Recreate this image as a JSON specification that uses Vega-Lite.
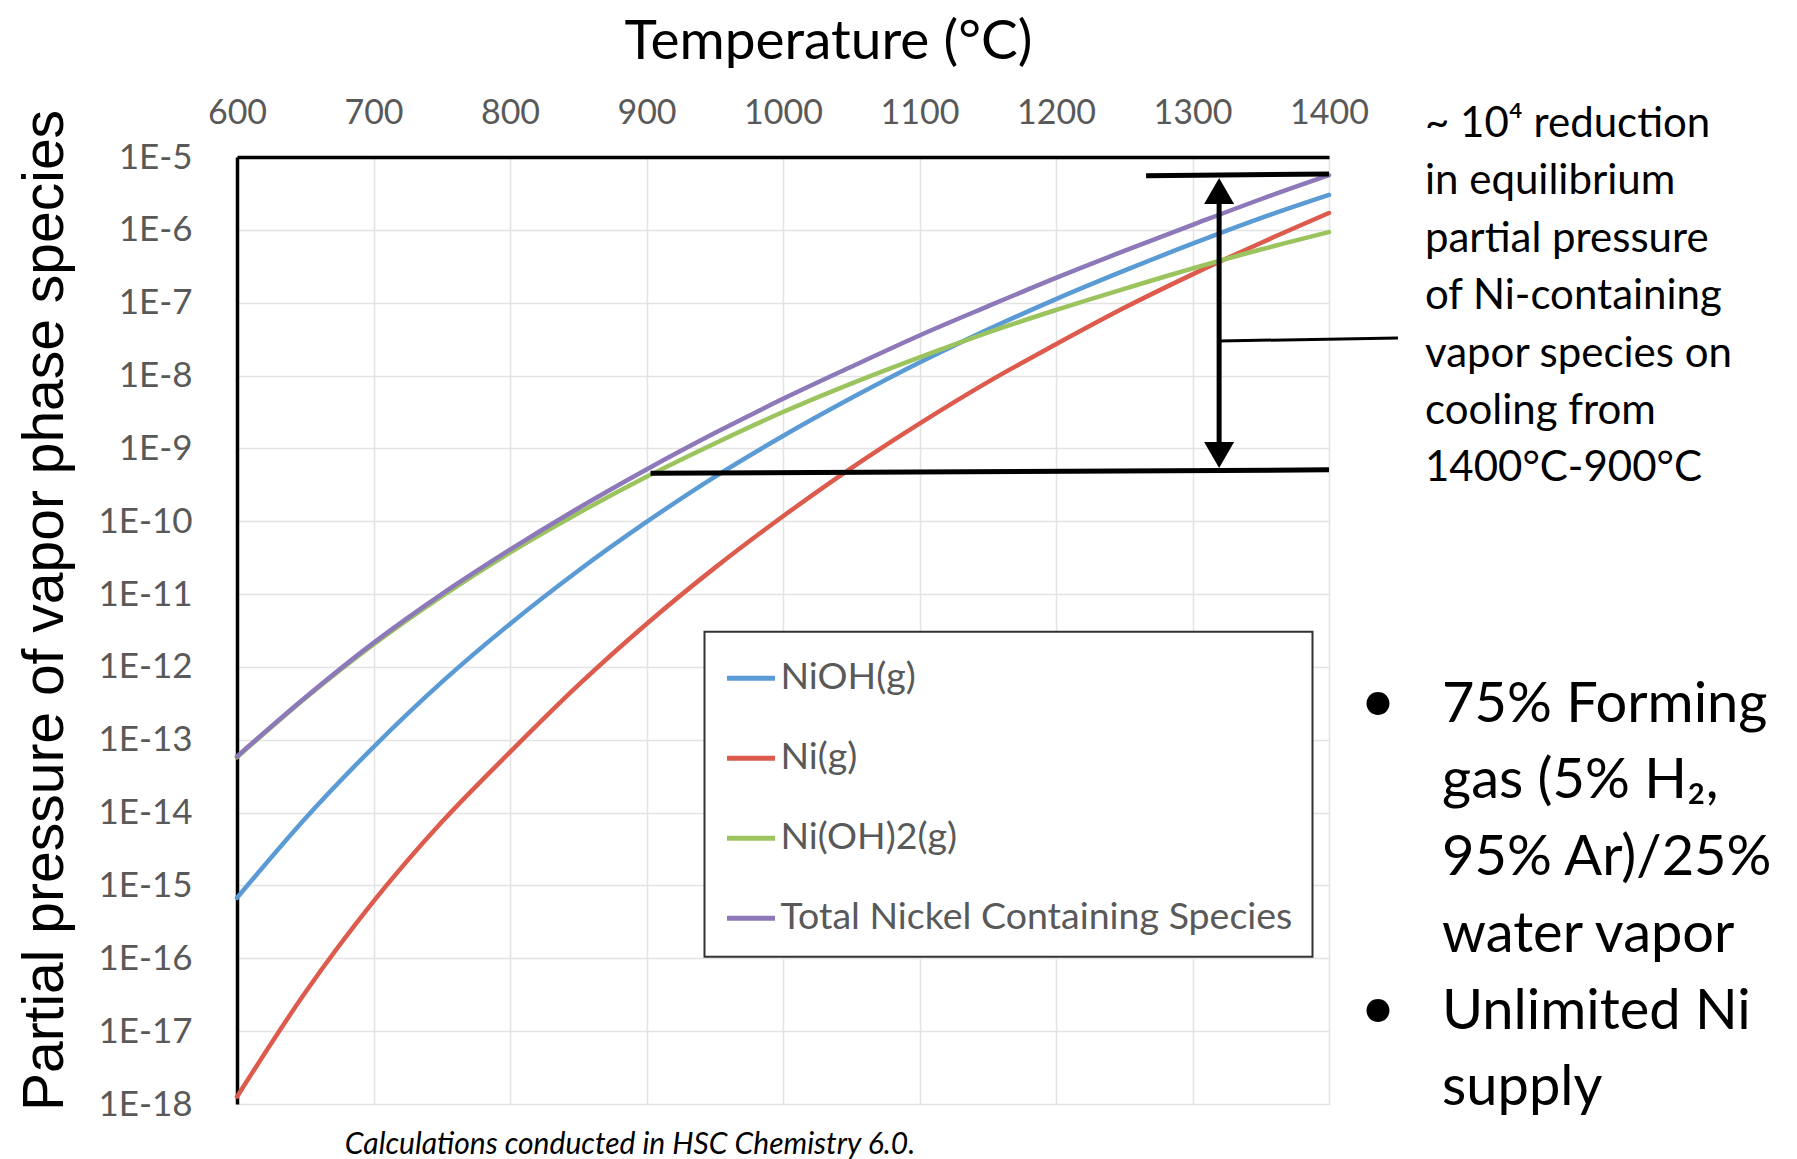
{
  "$schema": "https://vega.github.io/schema/vega-lite/v6.json",
  "width": 1092,
  "height": 947,
  "autosize": {"type": "none"},
  "padding": {"left": 237, "top": 157, "right": 468, "bottom": 55},
  "background": "white",
  "config": {"view": {"stroke": null}, "font": "Lato", "legend": {"strokeWidth": 2}},
  "datasets": {
    "curves": [
      {"T":600,"s":"NiOH(g)","p":6.76e-16},{"T":650,"s":"NiOH(g)","p":8.32e-15},{"T":700,"s":"NiOH(g)","p":7.94e-14},{"T":750,"s":"NiOH(g)","p":6.17e-13},{"T":800,"s":"NiOH(g)","p":3.89e-12},{"T":850,"s":"NiOH(g)","p":2.09e-11},{"T":900,"s":"NiOH(g)","p":9.77e-11},{"T":950,"s":"NiOH(g)","p":4.07e-10},{"T":1000,"s":"NiOH(g)","p":1.48e-9},{"T":1050,"s":"NiOH(g)","p":4.90e-9},{"T":1100,"s":"NiOH(g)","p":1.51e-8},{"T":1150,"s":"NiOH(g)","p":4.27e-8},{"T":1200,"s":"NiOH(g)","p":1.12e-7},{"T":1250,"s":"NiOH(g)","p":2.75e-7},{"T":1300,"s":"NiOH(g)","p":6.46e-7},{"T":1350,"s":"NiOH(g)","p":1.45e-6},{"T":1400,"s":"NiOH(g)","p":3.02e-6},
      {"T":600,"s":"Ni(g)","p":1.26e-18},{"T":650,"s":"Ni(g)","p":3.39e-17},{"T":700,"s":"Ni(g)","p":6.03e-16},{"T":750,"s":"Ni(g)","p":7.41e-15},{"T":800,"s":"Ni(g)","p":6.76e-14},{"T":850,"s":"Ni(g)","p":5.62e-13},{"T":900,"s":"Ni(g)","p":3.89e-12},{"T":950,"s":"Ni(g)","p":2.29e-11},{"T":1000,"s":"Ni(g)","p":1.17e-10},{"T":1050,"s":"Ni(g)","p":5.37e-10},{"T":1100,"s":"Ni(g)","p":2.19e-9},{"T":1150,"s":"Ni(g)","p":8.13e-9},{"T":1200,"s":"Ni(g)","p":2.69e-8},{"T":1250,"s":"Ni(g)","p":8.51e-8},{"T":1300,"s":"Ni(g)","p":2.45e-7},{"T":1350,"s":"Ni(g)","p":6.61e-7},{"T":1400,"s":"Ni(g)","p":1.70e-6},
      {"T":600,"s":"Ni(OH)2(g)","p":5.75e-14},{"T":650,"s":"Ni(OH)2(g)","p":3.72e-13},{"T":700,"s":"Ni(OH)2(g)","p":2.04e-12},{"T":750,"s":"Ni(OH)2(g)","p":9.33e-12},{"T":800,"s":"Ni(OH)2(g)","p":3.72e-11},{"T":850,"s":"Ni(OH)2(g)","p":1.29e-10},{"T":900,"s":"Ni(OH)2(g)","p":4.07e-10},{"T":950,"s":"Ni(OH)2(g)","p":1.17e-9},{"T":1000,"s":"Ni(OH)2(g)","p":3.16e-9},{"T":1050,"s":"Ni(OH)2(g)","p":7.76e-9},{"T":1100,"s":"Ni(OH)2(g)","p":1.78e-8},{"T":1150,"s":"Ni(OH)2(g)","p":3.89e-8},{"T":1200,"s":"Ni(OH)2(g)","p":7.94e-8},{"T":1250,"s":"Ni(OH)2(g)","p":1.55e-7},{"T":1300,"s":"Ni(OH)2(g)","p":2.95e-7},{"T":1350,"s":"Ni(OH)2(g)","p":5.37e-7},{"T":1400,"s":"Ni(OH)2(g)","p":9.33e-7},
      {"T":600,"s":"Total Nickel Containing Species","p":5.89e-14},{"T":650,"s":"Total Nickel Containing Species","p":3.80e-13},{"T":700,"s":"Total Nickel Containing Species","p":2.14e-12},{"T":750,"s":"Total Nickel Containing Species","p":1.00e-11},{"T":800,"s":"Total Nickel Containing Species","p":4.07e-11},{"T":850,"s":"Total Nickel Containing Species","p":1.51e-10},{"T":900,"s":"Total Nickel Containing Species","p":5.13e-10},{"T":950,"s":"Total Nickel Containing Species","p":1.62e-9},{"T":1000,"s":"Total Nickel Containing Species","p":4.79e-9},{"T":1050,"s":"Total Nickel Containing Species","p":1.32e-8},{"T":1100,"s":"Total Nickel Containing Species","p":3.55e-8},{"T":1150,"s":"Total Nickel Containing Species","p":8.91e-8},{"T":1200,"s":"Total Nickel Containing Species","p":2.19e-7},{"T":1250,"s":"Total Nickel Containing Species","p":5.13e-7},{"T":1300,"s":"Total Nickel Containing Species","p":1.17e-6},{"T":1350,"s":"Total Nickel Containing Species","p":2.63e-6},{"T":1400,"s":"Total Nickel Containing Species","p":5.62e-6}
    ],
    "bars": [
      {"k":"top","T":1266,"T2":1400,"p":5.53e-6,"p2":5.85e-6},
      {"k":"bottom","T":903,"T2":1400,"p":4.55e-10,"p2":5.07e-10},
      {"k":"shaft","T":1319.5,"T2":1319.5,"p":3.41e-6,"p2":8.11e-10}
    ],
    "connector": [
      {"T":1319.5,"T2":1450.5,"p":2.98e-8,"p2":3.27e-8}
    ],
    "headUp": [{"T":1319.5,"p":3.41e-6}],
    "headDown": [{"T":1319.5,"p":8.11e-10}],
    "noteAt": [{"T":1470.3,"p":1.882e-5}],
    "bulletAt": [{"T":1435.9,"p":1.77e-13},{"T":1435.9,"p":1.087e-17}],
    "listAt": [{"T":1482.8,"p":1.77e-13}],
    "footAt": [{"T":887.9,"p":2.06e-19}]
  },
  "layer": [
    {
      "data": {"name": "curves"},
      "mark": {"type": "line", "strokeWidth": 4.5, "strokeCap": "round", "interpolate": "monotone"},
      "encoding": {
        "x": {"field": "T", "type": "quantitative",
          "scale": {"domain": [600, 1400], "nice": false, "zero": false},
          "axis": {"orient": "top", "values": [600,700,800,900,1000,1100,1200,1300,1400], "format": "d",
            "title": "Temperature (°C)", "titleFont": "Lato", "titleFontSize": 55, "titleFontWeight": "normal", "titleColor": "black",
            "titleX": 591, "titleY": -99, "titleAlign": "center", "titleBaseline": "alphabetic", "titleAngle": 0,
            "labelFont": "Lato", "labelFontSize": 34, "labelColor": "#595959", "labelPadding": 34, "labelBaseline": "alphabetic",
            "ticks": false, "tickSize": 0, "domainColor": "black", "domainWidth": 3.5,
            "gridColor": "#E3E3E3", "gridWidth": 1.5, "labelFlush": false, "labelOverlap": false}},
        "y": {"field": "p", "type": "quantitative",
          "scale": {"type": "log", "domain": [1e-18, 1e-5], "nice": false},
          "axis": {"values": [1e-18,1e-17,1e-16,1e-15,1e-14,1e-13,1e-12,1e-11,1e-10,1e-9,1e-8,1e-7,1e-6,1e-5],
            "labelExpr": "'1E' + round(log(datum.value)/LN10)",
            "title": "Partial pressure of vapor phase species", "titleFont": "Liberation Sans", "titleFontSize": 57, "titleFontWeight": "normal", "titleColor": "black",
            "titleX": -175, "titleY": 453, "titleAngle": -90, "titleAlign": "center", "titleBaseline": "alphabetic",
            "labelFont": "Lato", "labelFontSize": 35, "labelColor": "#595959", "labelPadding": 45,
            "ticks": false, "tickSize": 0, "domainColor": "black", "domainWidth": 3.5,
            "gridColor": "#E3E3E3", "gridWidth": 1.5, "labelOverlap": false, "labelFlush": false}},
        "color": {"field": "s", "type": "nominal",
          "scale": {"domain": ["NiOH(g)", "Ni(g)", "Ni(OH)2(g)", "Total Nickel Containing Species"],
                    "range": ["#5B9BD5", "#DD5B4C", "#9CC45E", "#8D78BA"]},
          "legend": {"orient": "none", "legendX": 467.5, "legendY": 474.7, "title": null,
            "symbolType": "stroke", "symbolSize": 2304, "symbolStrokeWidth": 5,
            "labelFont": "Lato", "labelFontSize": 37.5, "labelColor": "#595959", "labelOffset": 3, "labelLimit": 1000,
            "rowPadding": 35, "padding": 20, "strokeColor": "#333333", "fillColor": "white"}}
      }
    },
    {"data": {"name": "bars"},
     "mark": {"type": "rule", "color": "black", "strokeWidth": 5},
     "encoding": {"x": {"field": "T", "type": "quantitative"}, "x2": {"field": "T2"}, "y": {"field": "p", "type": "quantitative"}, "y2": {"field": "p2"}}},
    {"data": {"name": "connector"},
     "mark": {"type": "rule", "color": "black", "strokeWidth": 3},
     "encoding": {"x": {"field": "T", "type": "quantitative"}, "x2": {"field": "T2"}, "y": {"field": "p", "type": "quantitative"}, "y2": {"field": "p2"}}},
    {"data": {"name": "headUp"},
     "mark": {"type": "point", "shape": "triangle-up", "filled": true, "color": "black", "opacity": 1, "size": 900},
     "encoding": {"x": {"field": "T", "type": "quantitative"}, "y": {"field": "p", "type": "quantitative"}}},
    {"data": {"name": "headDown"},
     "mark": {"type": "point", "shape": "triangle-down", "filled": true, "color": "black", "opacity": 1, "size": 900},
     "encoding": {"x": {"field": "T", "type": "quantitative"}, "y": {"field": "p", "type": "quantitative"}}},
    {"data": {"name": "noteAt"},
     "mark": {"type": "text", "font": "Lato", "fontSize": 42, "lineHeight": 57.4, "align": "left", "baseline": "alphabetic", "color": "black",
              "text": ["~ 10⁴ reduction", "in equilibrium", "partial pressure", "of Ni-containing", "vapor species on", "cooling from", "1400°C-900°C"]},
     "encoding": {"x": {"field": "T", "type": "quantitative"}, "y": {"field": "p", "type": "quantitative"}}},
    {"data": {"name": "bulletAt"},
     "mark": {"type": "text", "font": "Lato", "fontSize": 62, "align": "center", "baseline": "alphabetic", "color": "black", "text": "•"},
     "encoding": {"x": {"field": "T", "type": "quantitative"}, "y": {"field": "p", "type": "quantitative"}}},
    {"data": {"name": "listAt"},
     "mark": {"type": "text", "font": "Lato", "fontSize": 56, "lineHeight": 76.7, "align": "left", "baseline": "alphabetic", "color": "black",
              "text": ["75% Forming", "gas (5% H₂,", "95% Ar)/25%", "water vapor", "Unlimited Ni", "supply"]},
     "encoding": {"x": {"field": "T", "type": "quantitative"}, "y": {"field": "p", "type": "quantitative"}}},
    {"data": {"name": "footAt"},
     "mark": {"type": "text", "font": "Lato", "fontSize": 30, "fontStyle": "italic", "align": "center", "baseline": "alphabetic", "color": "black",
              "text": "Calculations conducted in HSC Chemistry 6.0."},
     "encoding": {"x": {"field": "T", "type": "quantitative"}, "y": {"field": "p", "type": "quantitative"}}}
  ]
}
